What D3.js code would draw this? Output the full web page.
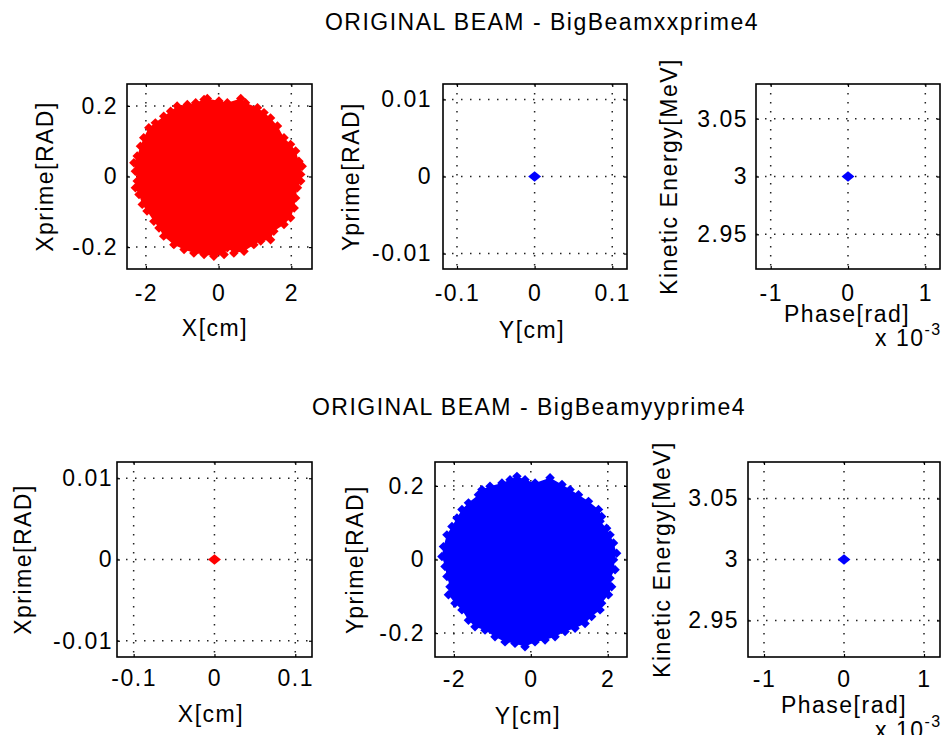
<!DOCTYPE html>
<html>
<head>
<meta charset="utf-8">
<script src="https://cdn.jsdelivr.net/npm/d3@7"></script>
<style>
  body { margin: 0; background: #fff; }
  text { font-family: "Liberation Sans", Arial, sans-serif; letter-spacing: 1.5px; fill: #000; }
</style>
</head>
<body>
<div id="chart"></div>
<script>
"use strict"

// titles and axis labels
const titles = ["ORIGINAL BEAM - BigBeamxxprime4", "ORIGINAL BEAM - BigBeamyyprime4"];
const xLabels = ["X[cm]", "Y[cm]", "Phase[rad]", "X[cm]", "Y[cm]", "Phase[rad]"];
const yLabels = ["Xprime[RAD]", "Yprime[RAD]", "Kinetic Energy[MeV]", "Xprime[RAD]", "Yprime[RAD]", "Kinetic Energy[MeV]"];

// axis limits
const xDomains = [[-2.52, 2.57], [-0.118, 0.119], [-1.19e-3, 1.19e-3], [-0.1206, 0.1207], [-2.49, 2.5], [-1.2e-3, 1.2e-3]];
const yDomains = [[-0.262, 0.262], [-0.012, 0.012], [2.92, 3.08], [-0.012, 0.012], [-0.265, 0.265], [2.92, 3.08]];

// tick values
const xTicks = [[-2, 0, 2], [-0.1, 0, 0.1], [-1e-3, 0, 1e-3], [-0.1, 0, 0.1], [-2, 0, 2], [-1e-3, 0, 1e-3]];
const yTicks = [[-0.2, 0, 0.2], [-0.01, 0, 0.01], [2.95, 3, 3.05], [-0.01, 0, 0.01], [-0.2, 0, 0.2], [2.95, 3, 3.05]];
const xExponent = [0, 0, -3, 0, 0, -3];

// beam x-x' outline (edge of the particle cloud)
const xxEdgeX  = [-0.31, 0.01, 0.24, 0.61, 0.74, 1.07, 1.25, 1.43, 1.62, 1.80, 1.98, 2.12, 2.21, 2.30, 2.26, 2.26, 2.17, 2.12, 2.08, 1.98, 1.80, 1.52, 1.43, 1.16, 0.97, 0.70, 0.42, 0.24, 0.15, -0.13, -0.40, -0.68, -0.95, -1.23, -1.51, -1.64, -1.78, -1.97, -2.10, -2.19, -2.29, -2.24, -2.29, -2.33, -2.24, -2.15, -2.06, -1.92, -1.74, -1.51, -1.32, -1.14, -0.86, -0.63, -0.40];
const xxEdgeXp = [0.221, 0.214, 0.209, 0.221, 0.209, 0.195, 0.181, 0.166, 0.143, 0.110, 0.091, 0.072, 0.043, 0.029, 0.006, -0.013, -0.032, -0.061, -0.089, -0.117, -0.136, -0.155, -0.179, -0.183, -0.193, -0.212, -0.217, -0.202, -0.221, -0.226, -0.221, -0.217, -0.207, -0.193, -0.169, -0.146, -0.127, -0.098, -0.079, -0.051, -0.032, -0.013, 0.015, 0.039, 0.058, 0.086, 0.110, 0.138, 0.152, 0.171, 0.185, 0.200, 0.204, 0.209, 0.218];

// beam y-y' outline
const yyEdgeY  = [-0.36, -0.15, 0.11, 0.50, 0.81, 1.02, 1.24, 1.50, 1.76, 1.84, 1.80, 1.97, 2.06, 2.15, 2.23, 2.15, 2.19, 2.06, 2.10, 2.02, 1.84, 1.80, 1.58, 1.41, 1.15, 0.89, 0.63, 0.37, 0.11, -0.15, -0.41, -0.67, -0.93, -1.19, -1.45, -1.62, -1.79, -1.97, -2.14, -2.10, -2.18, -2.23, -2.31, -2.27, -2.18, -2.05, -1.92, -1.79, -1.62, -1.36, -1.27, -1.06, -0.75, -0.54];
const yyEdgeYp = [0.226, 0.217, 0.208, 0.222, 0.204, 0.190, 0.176, 0.158, 0.136, 0.117, 0.104, 0.085, 0.067, 0.045, 0.017, -0.001, -0.028, -0.051, -0.074, -0.096, -0.119, -0.137, -0.155, -0.174, -0.187, -0.196, -0.210, -0.219, -0.224, -0.237, -0.228, -0.224, -0.210, -0.192, -0.183, -0.165, -0.137, -0.119, -0.096, -0.074, -0.046, -0.019, 0.008, 0.035, 0.067, 0.090, 0.113, 0.136, 0.154, 0.176, 0.190, 0.199, 0.208, 0.217];

// single (collapsed) distributions
const spotX = [0, 0, 0, 0, 0, 0];
const spotY = [0, 0, 3, 0, 0, 3];

// panel layout (pixels)
const boxes = [
  {l: 127, t: 84, w: 185, h: 185}, {l: 443, t: 84, w: 184, h: 185}, {l: 756, t: 84, w: 184, h: 185},
  {l: 117, t: 462, w: 195, h: 195}, {l: 435, t: 462, w: 192, h: 195}, {l: 748, t: 462, w: 192, h: 195}
];
const yTickGap = [9, 11, 8, 4, 10, 9];
const xTickGap = [16, 16, 16, 13, 14, 14];
const yLabelX = [53, 359, 677, 31, 363, 670];
const xLabelPos = [[215, 336], [532, 338], [847, 322], [211, 722], [528, 724], [844, 713]];
const expPos = [null, null, [875, 346], null, null, [875, 738]];
const colors = ["red", "blue", "blue", "red", "blue", "blue"];
const titlePos = [[542, 30], [529, 415]];

const W = 941, H = 735;
const svg = d3.select("#chart").append("svg")
  .attr("width", W).attr("height", H)
  .style("font-family", "'Liberation Sans', Arial, sans-serif");

svg.append("rect").attr("width", W).attr("height", H).attr("fill", "#fff");

titles.forEach(function(t, i) {
  svg.append("text")
    .attr("x", titlePos[i][0]).attr("y", titlePos[i][1])
    .attr("text-anchor", "middle")
    .style("font-size", "23px")
    .text(t);
});

const fmt = function(d) { return String(Math.round(d * 1e4) / 1e4); };
const fmtExp = function(d) { return String(Math.round(d * 1e3)); };

boxes.forEach(function(b, i) {
  const g = svg.append("g").attr("transform", "translate(" + b.l + "," + b.t + ")");
  const x = d3.scaleLinear().domain(xDomains[i]).range([0, b.w]);
  const y = d3.scaleLinear().domain(yDomains[i]).range([b.h, 0]);
  const xf = xExponent[i] ? fmtExp : fmt;

  // clip for data
  const clipId = "clip" + i;
  g.append("clipPath").attr("id", clipId)
    .append("rect").attr("width", b.w).attr("height", b.h);

  // dotted grid
  const grid = g.append("g")
    .attr("stroke", "#222").attr("stroke-width", 1.5)
    .attr("stroke-dasharray", "1.5,7.5");
  grid.selectAll(".gx").data(xTicks[i]).enter().append("line")
    .attr("x1", function(d) { return x(d); }).attr("x2", function(d) { return x(d); })
    .attr("y1", 0).attr("y2", b.h);
  grid.selectAll(".gy").data(yTicks[i]).enter().append("line")
    .attr("y1", function(d) { return y(d); }).attr("y2", function(d) { return y(d); })
    .attr("x1", 0).attr("x2", b.w);

  // data
  const plot = g.append("g").attr("clip-path", "url(#" + clipId + ")");
  let edgeA = null, edgeB = null;
  if (i === 0) { edgeA = xxEdgeX; edgeB = xxEdgeXp; }
  if (i === 4) { edgeA = yyEdgeY; edgeB = yyEdgeYp; }
  const diamond = d3.symbol().type(d3.symbolDiamond);
  if (edgeA) {
    const pts = edgeA.map(function(v, k) { return [v, edgeB[k]]; });
    plot.append("path")
      .datum(pts)
      .attr("d", d3.line()
        .x(function(d) { return x(d[0]); })
        .y(function(d) { return y(d[1]); })
        .curve(d3.curveLinearClosed))
      .attr("fill", colors[i]);
    plot.selectAll(".edge").data(pts).enter().append("path")
      .attr("d", diamond.size(40)())
      .attr("transform", function(d) { return "translate(" + x(d[0]) + "," + y(d[1]) + ") scale(1.4,0.8)"; })
      .attr("fill", colors[i]);
  } else {
    plot.append("path")
      .attr("d", diamond.size(60)())
      .attr("transform", "translate(" + x(spotX[i]) + "," + y(spotY[i]) + ") scale(1.55,0.72)")
      .attr("fill", colors[i]);
  }

  // axes with inward ticks
  const ax = g.append("g").attr("transform", "translate(0," + b.h + ")")
    .call(d3.axisBottom(x).tickValues(xTicks[i]).tickFormat(xf).tickSize(-3).tickPadding(xTickGap[i]));
  const axT = g.append("g")
    .call(d3.axisTop(x).tickValues(xTicks[i]).tickFormat("").tickSize(-3));
  const ay = g.append("g")
    .call(d3.axisLeft(y).tickValues(yTicks[i]).tickFormat(fmt).tickSize(-3).tickPadding(yTickGap[i]));
  const ayR = g.append("g").attr("transform", "translate(" + b.w + ",0)")
    .call(d3.axisRight(y).tickValues(yTicks[i]).tickFormat("").tickSize(-3));
  [ax, axT, ay, ayR].forEach(function(a) {
    a.select(".domain").remove();
    a.attr("font-size", null).attr("font-family", null);
    a.selectAll("line").attr("stroke", "#000").attr("stroke-width", 1.2);
    a.selectAll("text").style("font-size", "23px").attr("fill", "#000");
  });

  // box
  g.append("rect").attr("width", b.w).attr("height", b.h)
    .attr("fill", "none").attr("stroke", "#000").attr("stroke-width", 1.6);

  // labels
  svg.append("text")
    .attr("x", xLabelPos[i][0]).attr("y", xLabelPos[i][1])
    .attr("text-anchor", "middle").style("font-size", "23px")
    .text(xLabels[i]);
  svg.append("text")
    .attr("transform", "translate(" + yLabelX[i] + "," + (b.t + b.h / 2) + ") rotate(-90)")
    .attr("text-anchor", "middle").style("font-size", "23px")
    .text(yLabels[i]);
  if (expPos[i]) {
    const e = svg.append("text")
      .attr("x", expPos[i][0]).attr("y", expPos[i][1])
      .style("font-size", "23px");
    e.append("tspan").text("x 10");
    e.append("tspan").attr("dy", -11).style("font-size", "16px").text(String(xExponent[i]));
  }
});
</script>
</body>
</html>
